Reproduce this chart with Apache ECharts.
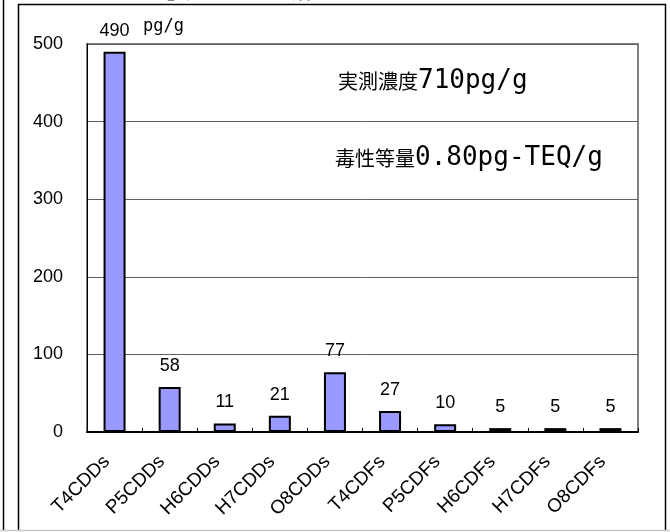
<!DOCTYPE html>
<html>
<head>
<meta charset="utf-8">
<script src="https://cdn.jsdelivr.net/npm/echarts@6/dist/echarts.min.js"></script>
<style>
  html, body { margin: 0; padding: 0; background: #fff; }
  #chart { width: 670px; height: 532px; }
</style>
</head>
<body>
<div id="chart"></div>
<script>
// Congener groups and their measured concentrations (pg/g)
const categories = ['T4CDDs', 'P5CDDs', 'H6CDDs', 'H7CDDs', 'O8CDDs',
                    'T4CDFs', 'P5CDFs', 'H6CDFs', 'H7CDFs', 'O8CDFs'];
const values = [490, 58, 11, 21, 77, 27, 10, 5, 5, 5];
const yTicks = { min: 0, max: 500, step: 100 };
const unitText = 'pg/g';
const totalLabel = ['実測濃度', '710pg/g'];
const teqLabel = ['毒性等量', '0.80pg-TEQ/g'];
const headingText = '⑥ ダイオキシン類';

const chart = echarts.init(document.getElementById('chart'), null, { renderer: 'canvas' });

const cjk = '"Noto Sans CJK JP", sans-serif';
const mono = '"DejaVu Sans Mono", monospace';
const sans = '"Liberation Sans", Arial, sans-serif';

chart.setOption({
  animation: false,
  backgroundColor: '#ffffff',
  grid: {
    left: 87, top: 44, right: 32, bottom: 100,
    show: true,
    backgroundColor: '#ffffff',
    borderColor: '#808080',
    borderWidth: 2
  },
  xAxis: {
    type: 'category',
    data: categories,
    axisLine: { lineStyle: { color: '#000', width: 2 } },
    axisTick: { show: true, inside: true, length: 4, interval: 0, lineStyle: { color: '#000' } },
    axisLabel: {
      interval: 0, rotate: 45, margin: 19, padding: [0, 11, 0, 0],
      fontFamily: sans, fontSize: 19, color: '#000'
    }
  },
  yAxis: {
    type: 'value',
    min: yTicks.min, max: yTicks.max, interval: yTicks.step,
    axisLine: { show: true, lineStyle: { color: '#000', width: 1 } },
    axisTick: { show: false },
    splitLine: { show: true, lineStyle: { color: '#606060', width: 1 } },
    axisLabel: {
      margin: 24,
      fontFamily: sans, fontSize: 18, color: '#000'
    }
  },
  series: [{
    type: 'bar',
    data: values,
    barWidth: 22,
    itemStyle: { color: '#9999ff', borderColor: '#000', borderWidth: 2 },
    label: {
      show: true, position: 'top', distance: 12,
      fontFamily: sans, fontSize: 18, color: '#000'
    }
  }],
  graphic: [
    // partial frame of the neighbouring panel
    { type: 'line', shape: { x1: 3.5, y1: 0, x2: 3.5, y2: 530 }, style: { stroke: '#000', lineWidth: 1.5 }, silent: true },
    // panel frame
    { type: 'polyline', shape: { points: [[18.5, 530], [18.5, 4.5], [665.5, 4.5], [665.5, 530]] },
      style: { stroke: '#000', lineWidth: 1.5, fill: null }, silent: true },
    { type: 'line', shape: { x1: 0, y1: 530.5, x2: 670, y2: 530.5 }, style: { stroke: '#c8c8c8', lineWidth: 1.5 }, silent: true },
    // heading of the panel, cut off by the top edge
    { type: 'text', left: 162, top: -17, silent: true,
      style: { text: headingText, font: '18px ' + cjk, fill: '#000' } },
    // unit beside the tallest bar
    { type: 'text', left: 143, top: 18, silent: true,
      style: { text: unitText, font: '17px ' + mono, fill: '#000' } },
    // measured concentration and toxic equivalent
    { type: 'text', left: 338, top: 68, silent: true,
      style: {
        text: '{a|' + totalLabel[0] + '}{b|' + totalLabel[1] + '}',
        rich: {
          a: { fontFamily: cjk, fontSize: 20, fill: '#000', color: '#000' },
          b: { fontFamily: mono, fontSize: 26, fill: '#000', color: '#000' }
        }
      } },
    { type: 'text', left: 335, top: 145, silent: true,
      style: {
        text: '{a|' + teqLabel[0] + '}{b|' + teqLabel[1] + '}',
        rich: {
          a: { fontFamily: cjk, fontSize: 20, fill: '#000', color: '#000' },
          b: { fontFamily: mono, fontSize: 26, fill: '#000', color: '#000' }
        }
      } }
  ]
});
</script>
</body>
</html>
